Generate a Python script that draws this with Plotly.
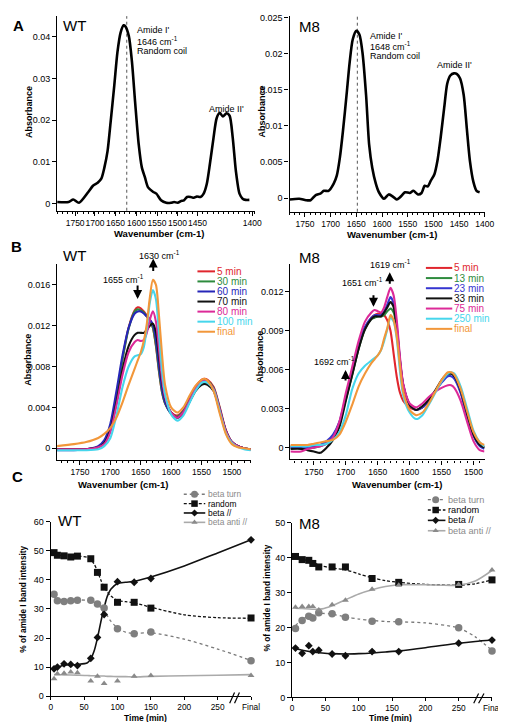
import plotly.graph_objects as go

W, H = 506, 722
NARROW = "Liberation Sans Narrow, Arial Narrow, Liberation Sans, Arial, sans-serif"
SANS = "Liberation Sans, Arial, Helvetica, sans-serif"

# ---------------- Panel A : single spectra ----------------
wn_a_wt = [1780,1758,1749,1738,1720,1711,1702,1695,1689,1683,
           1677,1670,1664,1658,1652,1649,1642,1636,1630,1623,
           1617,1611,1605,1595,1589,1580,1570,1561,1555,1548,
           1542,1536,1530,1523,1517,1511,1504,1498,1492,1486,
           1479,1473,1467,1461,1454,1448,1442,1436,1429,1423,
           1417,1410]
abs_a_wt = [0.0004,0.0004,0.0010,0.0002,0.0028,0.0043,0.0050,0.0060,0.0087,0.0126,
            0.0197,0.0284,0.0363,0.0410,0.0428,0.0426,0.0402,0.0340,0.0245,0.0142,
            0.0087,0.0063,0.0039,0.0028,0.0024,0.0008,0.0002,0.0002,0.0004,0.0002,
            0.0006,0.0008,0.0016,0.0016,0.0014,0.0017,0.0016,0.0024,0.0047,0.0095,
            0.0158,0.0205,0.0218,0.0209,0.0217,0.0211,0.0158,0.0079,0.0024,0.0012,
            0.0009,0.0009]
wn_a_m8 = [1780,1761,1748,1739,1729,1720,1713,1704,1694,1688,
           1682,1676,1669,1663,1657,1650,1644,1638,1631,1625,
           1619,1612,1606,1596,1587,1577,1571,1565,1555,1546,
           1539,1530,1523,1517,1511,1505,1498,1492,1486,1479,
           1473,1467,1460,1454,1448,1441,1435,1429,1422,1416,
           1410]
abs_a_m8 = [-0.0002,-0.0001,-0.0003,-0.0003,0.0004,0.0006,0.0010,0.0010,0.0020,0.0031,
            0.0056,0.0093,0.0143,0.0188,0.0220,0.0232,0.0227,0.0202,0.0143,0.0074,
            0.0042,0.0020,0.0008,-0.0001,0.0005,0.0001,-0.0002,0.0001,0.0008,0.0007,
            0.0010,0.0005,0.0007,0.0017,0.0016,0.0024,0.0033,0.0052,0.0083,0.0125,
            0.0159,0.0170,0.0173,0.0172,0.0166,0.0143,0.0097,0.0052,0.0022,0.0010,
            0.0008]
peak_a_wt = 1646
peak_a_m8 = 1648
wn_tick_text = ["1750", "1700", "1650", "1600", "1550", "1500", "1450", "1400"]
a_wt_tick_pos = [1745.4, 1707.2, 1667.7, 1627.3, 1587.7, 1548.2, 1509.7, 1404.3]
a_m8_tick_pos = [1750, 1700, 1650, 1600, 1550, 1500, 1450, 1400]

# ---------------- Panel B : time series spectra ----------------
wn_b_wt = [1788,1760,1740,1720,1710,1700,1690,1680,1670,1660,
           1655,1650,1645,1640,1635,1630,1625,1620,1615,1610,
           1600,1590,1580,1570,1560,1550,1545,1540,1530,1520,
           1510,1500,1490,1480,1469]
b_wt_names = ["5 min", "30 min", "60 min", "70 min", "80 min", "100 min", "final"]
b_wt_colors = ["#e0262e", "#2e8b3e", "#2626b8", "#111111", "#dc2a98", "#46d6ec", "#f2973a"]
b_wt_5 = [-0.0001,-0.0001,-0.0001,0.0001,0.0005,0.0019,0.0050,0.0088,0.0118,0.0135,
          0.0138,0.0137,0.0134,0.0130,0.0126,0.0118,0.0100,0.0075,0.0055,0.0044,
          0.0035,0.0032,0.0037,0.0048,0.0060,0.0067,0.0068,0.0067,0.0060,0.0040,
          0.0018,0.0006,0.0002,0.0000,-0.0001]
b_wt_30 = [-0.0001,-0.0001,-0.0001,0.0001,0.0005,0.0019,0.0049,0.0087,0.0117,0.0134,
           0.0136,0.0135,0.0133,0.0129,0.0125,0.0118,0.0101,0.0076,0.0055,0.0044,
           0.0034,0.0031,0.0036,0.0047,0.0059,0.0066,0.0067,0.0066,0.0059,0.0039,
           0.0017,0.0006,0.0002,0.0000,-0.0001]
b_wt_60 = [-0.0002,-0.0002,-0.0001,0.0002,0.0008,0.0024,0.0056,0.0091,0.0118,0.0132,
           0.0134,0.0134,0.0132,0.0129,0.0126,0.0121,0.0106,0.0080,0.0058,0.0045,
           0.0034,0.0030,0.0035,0.0046,0.0058,0.0065,0.0066,0.0065,0.0058,0.0038,
           0.0017,0.0006,0.0002,0.0000,-0.0001]
b_wt_70 = [-0.0001,-0.0001,-0.0001,0.0001,0.0005,0.0018,0.0045,0.0077,0.0100,0.0111,
           0.0113,0.0113,0.0113,0.0116,0.0120,0.0122,0.0114,0.0090,0.0065,0.0049,
           0.0035,0.0030,0.0034,0.0045,0.0056,0.0062,0.0063,0.0062,0.0056,0.0037,
           0.0017,0.0006,0.0002,0.0000,-0.0001]
b_wt_80 = [-0.0001,-0.0001,-0.0001,0.0001,0.0004,0.0016,0.0042,0.0072,0.0094,0.0104,
           0.0106,0.0105,0.0106,0.0113,0.0126,0.0134,0.0124,0.0097,0.0068,0.0050,
           0.0035,0.0030,0.0035,0.0046,0.0058,0.0065,0.0066,0.0065,0.0058,0.0038,
           0.0017,0.0006,0.0002,0.0000,-0.0001]
b_wt_100 = [-0.0002,-0.0002,-0.0002,-0.0001,0.0002,0.0010,0.0032,0.0060,0.0080,0.0090,
            0.0091,0.0092,0.0099,0.0118,0.0143,0.0155,0.0146,0.0112,0.0076,0.0053,
            0.0033,0.0027,0.0032,0.0044,0.0056,0.0064,0.0065,0.0064,0.0057,0.0036,
            0.0015,0.0005,0.0001,-0.0001,-0.0002]
b_wt_final = [0.0002,0.0004,0.0006,0.0010,0.0014,0.0020,0.0030,0.0045,0.0062,0.0078,
              0.0086,0.0094,0.0105,0.0122,0.0148,0.0165,0.0160,0.0130,0.0092,0.0062,
              0.0040,0.0035,0.0040,0.0051,0.0061,0.0067,0.0068,0.0066,0.0056,0.0034,
              0.0014,0.0004,0.0001,0.0000,-0.0001]

wn_b_m8 = [1787,1770,1760,1750,1740,1730,1720,1710,1700,1690,
           1680,1670,1660,1655,1650,1645,1640,1635,1630,1625,
           1620,1615,1610,1600,1590,1580,1570,1560,1550,1540,
           1535,1530,1520,1510,1500,1490,1483]
b_m8_names = ["5 min", "13 min", "23 min", "33 min", "75 min", "250 min", "final"]
b_m8_colors = ["#e0262e", "#2e8b3e", "#3535d0", "#111111", "#dc2a98", "#46d6ec", "#f2973a"]
b_m8_5 = [0.0001,0.0001,0.0001,0.0001,0.0002,0.0004,0.0009,0.0019,0.0038,0.0057,
          0.0077,0.0092,0.0100,0.0102,0.0103,0.0103,0.0102,0.0098,0.0090,0.0072,
          0.0054,0.0042,0.0036,0.0031,0.0029,0.0031,0.0036,0.0043,0.0051,0.0056,
          0.0057,0.0055,0.0043,0.0025,0.0010,0.0002,0.0000]
b_m8_13 = [0.0000,0.0000,0.0000,0.0000,0.0001,0.0003,0.0008,0.0018,0.0037,0.0056,
           0.0076,0.0091,0.0099,0.0100,0.0101,0.0101,0.0102,0.0105,0.0107,0.0104,
           0.0090,0.0065,0.0047,0.0033,0.0029,0.0031,0.0036,0.0043,0.0051,0.0056,
           0.0057,0.0055,0.0043,0.0025,0.0010,0.0002,0.0000]
b_m8_23 = [0.0000,0.0000,0.0000,0.0001,0.0002,0.0005,0.0010,0.0020,0.0039,0.0058,
           0.0078,0.0093,0.0100,0.0102,0.0102,0.0102,0.0105,0.0110,0.0116,0.0111,
           0.0093,0.0067,0.0048,0.0033,0.0029,0.0031,0.0036,0.0043,0.0050,0.0055,
           0.0055,0.0053,0.0042,0.0024,0.0009,0.0001,-0.0001]
b_m8_33 = [-0.0001,-0.0001,-0.0002,-0.0003,-0.0004,0.0000,0.0006,0.0016,0.0036,0.0056,
           0.0076,0.0091,0.0099,0.0101,0.0101,0.0101,0.0104,0.0108,0.0112,0.0108,
           0.0091,0.0066,0.0048,0.0033,0.0029,0.0032,0.0037,0.0044,0.0052,0.0057,
           0.0057,0.0055,0.0044,0.0026,0.0010,0.0002,0.0000]
b_m8_75 = [-0.0003,-0.0003,-0.0001,0.0000,0.0001,0.0003,0.0008,0.0020,0.0042,0.0062,
           0.0082,0.0097,0.0104,0.0106,0.0105,0.0104,0.0108,0.0116,0.0123,0.0117,
           0.0097,0.0069,0.0049,0.0034,0.0031,0.0034,0.0039,0.0043,0.0046,0.0048,
           0.0048,0.0046,0.0036,0.0020,0.0005,-0.0002,-0.0003]
b_m8_250 = [0.0001,0.0001,0.0001,0.0002,0.0002,0.0003,0.0006,0.0012,0.0025,0.0045,
            0.0057,0.0063,0.0067,0.0069,0.0071,0.0075,0.0082,0.0091,0.0100,0.0097,
            0.0083,0.0058,0.0040,0.0027,0.0022,0.0025,0.0033,0.0042,0.0051,0.0057,
            0.0058,0.0057,0.0047,0.0030,0.0013,0.0004,0.0001]
b_m8_final = [0.0002,0.0002,0.0002,0.0003,0.0004,0.0005,0.0006,0.0010,0.0020,0.0033,
              0.0047,0.0057,0.0065,0.0068,0.0071,0.0075,0.0084,0.0092,0.0102,0.0098,
              0.0085,0.0062,0.0043,0.0029,0.0025,0.0027,0.0034,0.0043,0.0052,0.0058,
              0.0058,0.0056,0.0045,0.0028,0.0012,0.0004,0.0002]

# ---------------- Panel C : secondary structure content ----------------
final_pos = 300
c_tick_vals = [0, 50, 100, 150, 200, 250, 300]
c_tick_text = ["0", "50", "100", "150", "200", "250", "Final"]
c_names = ["beta turn", "random", "beta //", "beta anti //"]

t_wt = [5, 10, 20, 30, 40, 60, 70, 80, 100, 125, 150, final_pos]
turn_wt = [35.1, 32.8, 32.6, 32.8, 33.0, 33.0, 31.7, 30.3, 23.2, 21.5, 22.1, 12.2]
random_wt = [49.4, 48.5, 48.3, 47.9, 48.2, 47.3, 42.6, 37.5, 32.3, 32.3, 30.3, 26.9]
par_wt = [9.4, 10.0, 11.1, 10.9, 10.5, 13.0, 20.2, 28.1, 39.4, 39.2, 40.5, 53.8]
anti_wt = [6.0, 7.7, 7.9, 8.3, 8.0, 5.2, 6.8, 4.3, 5.2, 6.8, 7.1, 7.1]

fit_t_wt = [5, 10, 20, 40, 55, 60, 65, 70, 75, 80, 85, 90, 100, 112, 125, 150, 200, 250, 300]
turn_fit_wt = [34.6, 33.2, 32.8, 33.1, 33.0, 32.8, 32.3, 31.5, 30.5, 29.3, 27.6, 25.8, 23.5, 22.0, 21.6, 21.8, 19.6, 16.2, 12.3]
random_fit_wt = [49.2, 48.6, 48.4, 48.2, 47.8, 47.0, 45.5, 43.0, 40.0, 37.5, 35.8, 34.5, 33.0, 32.5, 32.1, 30.6, 28.0, 27.0, 26.8]
par_fit_wt = [9.5, 9.9, 10.6, 10.9, 11.5, 12.8, 15.5, 20.0, 25.5, 30.5, 34.5, 36.8, 38.8, 39.2, 39.5, 41.0, 44.8, 49.3, 53.8]
anti_fit_wt = [7.4, 7.4, 7.3, 7.2, 7.1, 7.0, 7.0, 6.9, 6.9, 6.9, 6.8, 6.8, 6.7, 6.7, 6.6, 6.8, 7.0, 7.2, 7.4]

t_m8 = [5, 15, 25, 31, 40, 60, 80, 120, 160, 250, final_pos]
turn_m8 = [19.7, 22.0, 23.2, 22.7, 24.2, 23.9, 22.9, 21.8, 21.6, 19.9, 13.3]
random_m8 = [40.3, 39.4, 39.2, 38.3, 37.3, 37.3, 37.3, 34.0, 32.9, 32.3, 33.6]
par_m8 = [14.1, 12.6, 14.8, 13.1, 13.5, 12.4, 11.9, 13.1, 13.1, 15.5, 16.4]
anti_m8 = [25.8, 26.0, 26.0, 26.0, 25.0, 26.5, 27.8, 30.9, 32.1, 32.3, 36.4]

fit_t_m8 = [5, 15, 30, 45, 60, 80, 100, 120, 140, 160, 200, 250, 275, 300]
turn_fit_m8 = [20.5, 22.3, 23.6, 24.0, 23.8, 23.0, 22.4, 22.0, 21.7, 21.6, 21.3, 19.8, 17.3, 13.4]
random_fit_m8 = [40.2, 39.6, 38.6, 37.6, 37.0, 36.5, 35.3, 34.2, 33.4, 32.9, 32.3, 32.1, 32.5, 33.6]
par_fit_m8 = [13.9, 13.5, 13.0, 12.7, 12.5, 12.4, 12.5, 12.7, 13.0, 13.3, 14.2, 15.5, 16.0, 16.4]
anti_fit_m8 = [25.5, 25.4, 25.2, 25.3, 26.2, 27.9, 29.6, 30.8, 31.7, 32.2, 32.2, 32.1, 33.3, 36.3]

# ---------------- helpers ----------------
def px(x):
    return x / W

def py(y):
    return 1 - y / H

fig = go.Figure()
ann = []
shapes = []

def label(x, y, s, size, family=SANS, color="black", xanchor="center", angle=0):
    ann.append(dict(x=px(x), y=py(y), xref="paper", yref="paper", text=s, showarrow=False,
                    font=dict(size=size, family=family, color=color), borderpad=0,
                    xanchor=xanchor, yanchor="middle", textangle=angle))

def arrow(x, yhead, dy):
    ann.append(dict(x=px(x), y=py(yhead), xref="paper", yref="paper", text="",
                    showarrow=True, ax=0, ay=dy, arrowhead=2, arrowsize=0.9,
                    arrowwidth=2, arrowcolor="black"))

def base_axis(**kw):
    d = dict(showline=True, linecolor="black", linewidth=1.2, ticks="outside", ticklen=4,
             tickwidth=1, tickcolor="black", showgrid=False, zeroline=False, tickangle=0,
             tickfont=dict(size=9, family=SANS, color="black"), fixedrange=True)
    d.update(kw)
    return d

minor10 = dict(tickmode="linear", tick0=1400, dtick=10, ticks="outside", ticklen=2,
               tickcolor="black", tickwidth=1)
xfontN = dict(size=8.5, family=NARROW, color="black")
cxfont = dict(size=8.3, family=SANS, color="black")

# ---------------- Panel A traces ----------------
fig.add_trace(go.Scatter(x=wn_a_wt, y=abs_a_wt, mode="lines", xaxis="x", yaxis="y",
                         line=dict(color="black", width=2.6, shape="spline", smoothing=0.7)))
fig.add_trace(go.Scatter(x=wn_a_m8, y=abs_a_m8, mode="lines", xaxis="x2", yaxis="y2",
                         line=dict(color="black", width=2.6, shape="spline", smoothing=0.7)))
for xr, pk in (("x", peak_a_wt), ("x2", peak_a_m8)):
    shapes.append(dict(type="line", xref=xr, yref=("y" if xr == "x" else "y2") + " domain",
                       x0=pk, x1=pk, y0=0, y1=1, layer="below",
                       line=dict(color="#555555", width=1, dash="dot")))

# ---------------- Panel B traces ----------------
wt_series = [b_wt_5, b_wt_30, b_wt_60, b_wt_70, b_wt_80, b_wt_100, b_wt_final]
for ys, c in zip(wt_series, b_wt_colors):
    fig.add_trace(go.Scatter(x=wn_b_wt, y=ys, mode="lines", xaxis="x3", yaxis="y3",
                             line=dict(color=c, width=2.1, shape="spline", smoothing=0.7)))
m8_series = [b_m8_5, b_m8_13, b_m8_23, b_m8_33, b_m8_75, b_m8_250, b_m8_final]
for ys, c in zip(m8_series, b_m8_colors):
    fig.add_trace(go.Scatter(x=wn_b_m8, y=ys, mode="lines", xaxis="x4", yaxis="y4",
                             line=dict(color=c, width=2.1, shape="spline", smoothing=0.7)))

# ---------------- Panel C traces ----------------
styles = [
    dict(lc="#7a7a7a", dash="dot", lw=1.3, sym="circle", mc="#7f7f7f", ms=7.5),
    dict(lc="#111111", dash="3px,2px", lw=1.3, sym="square", mc="#111111", ms=7),
    dict(lc="#111111", dash="solid", lw=1.6, sym="diamond", mc="#111111", ms=6),
    dict(lc="#aaaaaa", dash="solid", lw=1.6, sym="triangle-up", mc="#8a8a8a", ms=6),
]

def add_c(xa, ya, fit_t, fits, t, pts):
    for f, st in zip(fits, styles):
        fig.add_trace(go.Scatter(x=fit_t, y=f, mode="lines", xaxis=xa, yaxis=ya,
                                 line=dict(color=st["lc"], width=st["lw"], dash=st["dash"],
                                           shape="spline", smoothing=0.8)))
    for p, st in zip(pts, styles):
        fig.add_trace(go.Scatter(x=t, y=p, mode="markers", xaxis=xa, yaxis=ya, cliponaxis=False,
                                 marker=dict(symbol=st["sym"], color=st["mc"], size=st["ms"],
                                             line=dict(width=0))))

add_c("x5", "y5", fit_t_wt, [turn_fit_wt, random_fit_wt, par_fit_wt, anti_fit_wt],
      t_wt, [turn_wt, random_wt, par_wt, anti_wt])
add_c("x6", "y6", fit_t_m8, [turn_fit_m8, random_fit_m8, par_fit_m8, anti_fit_m8],
      t_m8, [turn_m8, random_m8, par_m8, anti_m8])

# ---------------- legends (drawn on a pixel overlay axis) ----------------
def legend_line(x0, x1, y, color, width, dash="solid"):
    fig.add_trace(go.Scatter(x=[x0, x1], y=[y, y], mode="lines", xaxis="x7", yaxis="y7",
                             cliponaxis=False, line=dict(color=color, width=width, dash=dash)))

def legend_marker(x, y, st):
    fig.add_trace(go.Scatter(x=[x], y=[y], mode="markers", xaxis="x7", yaxis="y7",
                             cliponaxis=False,
                             marker=dict(symbol=st["sym"], color=st["mc"], size=st["ms"] - 0.5,
                                         line=dict(width=0))))

for i, (nm, c) in enumerate(zip(b_wt_names, b_wt_colors)):
    y = 262 + 10.2 * i
    legend_line(192, 210, y, c, 2)
    label(211, y, nm, 10, SANS, c, "left")
for i, (nm, c) in enumerate(zip(b_m8_names, b_m8_colors)):
    y = 258.5 + 10.3 * i
    legend_line(426, 453, y, c, 2)
    label(454, y, nm, 10, SANS, c, "left")

for rows, (x0, x1, xm, xt), fs in (([488, 497.5, 507, 516.5], (178, 200, 189, 202), 8.4),
                                   ([493.5, 504, 514.5, 525], (428, 446, 436, 448), 9.2)):
    for y, nm, st in zip(rows, c_names, styles):
        legend_line(x0, x1, y, st["lc"], st["lw"], st["dash"])
        legend_marker(xm, y, st)
        tc = "#8a8a8a" if nm in ("beta turn", "beta anti //") else "black"
        label(xt, y, nm, fs, SANS, tc, "left")

# ---------------- axis break marks ----------------
for (a, b, yb, yt) in ((225, 230, 700, 689), (230, 235, 700, 689),
                       (475, 480, 700, 690), (480, 485.5, 700, 690)):
    shapes.append(dict(type="line", xref="paper", yref="paper", x0=px(a), x1=px(b),
                       y0=py(yb), y1=py(yt), line=dict(color="black", width=1.2)))

# ---------------- text ----------------
label(9, 13, "<b>A</b>", 15)
label(7, 237, "<b>B</b>", 15)
label(8, 470, "<b>C</b>", 15)
label(66, 13, "WT", 15)
label(306.5, 14, "M8", 15)
label(66, 246, "WT", 15)
label(307, 247.5, "M8", 15)
label(61, 515, "WT", 15)
label(307, 517.5, "M8", 15)

label(129, 17, "Amide I'", 9, NARROW, xanchor="left")
label(129, 28, "1646 cm<sup>-1</sup>", 9, NARROW, xanchor="left")
label(129, 38.5, "Random coil", 9, NARROW, xanchor="left")
label(222, 97, "Amide II'", 9, NARROW)
label(368, 23, "Amide I'", 9, NARROW, xanchor="left")
label(368, 33, "1648 cm<sup>-1</sup>", 9, NARROW, xanchor="left")
label(368, 43.5, "Random coil", 9, NARROW, xanchor="left")
label(455, 53, "Amide II'", 9, NARROW)

label(116, 269.5, "1655 cm<sup>-1</sup>", 9, NARROW)
label(153, 245, "1630 cm<sup>-1</sup>", 9, NARROW)
arrow(130.7, 290, -15)
arrow(146.7, 249, 14)
label(390, 255, "1619 cm<sup>-1</sup>", 9, NARROW)
label(361, 273, "1651 cm<sup>-1</sup>", 9, NARROW)
label(332, 353, "1692 cm<sup>-1</sup>", 9, NARROW)
arrow(389, 263, 13)
arrow(372.3, 298, -13)
arrow(343.7, 362, 12)

for (x, y) in ((152.5, 224), (391.7, 225), (115.8, 478.3), (396.3, 478.3)):
    label(x, y, "<b>Wavenumber (cm-1)</b>", 9.5, NARROW)
for (x, y) in ((20, 100.8), (258, 100), (18.3, 351.7), (256.3, 348.3)):
    label(x, y, "<b>Absorbance</b>", 9, NARROW, angle=-90)
for (x, y) in ((139.3, 715.2), (389.7, 715.2)):
    label(x, y, "<b>Time (min)</b>", 8.5)
for (x, y) in ((13.3, 594), (263, 593)):
    label(x, y, "<b>% of amide I band intensity</b>", 8.3, angle=-90)

# ---------------- layout ----------------
fig.update_layout(
    width=W, height=H, margin=dict(l=0, r=0, t=0, b=0),
    paper_bgcolor="white", plot_bgcolor="rgba(0,0,0,0)", showlegend=False,
    font=dict(family=SANS, color="black"),
    xaxis=base_axis(domain=[px(48.3), px(250.5)], range=[1780, 1400], anchor="y",
                    tickmode="array", tickvals=a_wt_tick_pos, ticktext=wn_tick_text,
                    tickfont=xfontN, minor=minor10),
    yaxis=base_axis(domain=[py(200.5), py(3.2)], range=[-0.0017, 0.045], anchor="x",
                    tickmode="array", tickvals=[0, 0.01, 0.02, 0.03, 0.04],
                    ticktext=["0", "0.01", "0.02", "0.03", "0.04"]),
    xaxis2=base_axis(domain=[px(286.3), px(486.3)], range=[1780, 1400], anchor="y2",
                     tickmode="array", tickvals=a_m8_tick_pos, ticktext=wn_tick_text,
                     tickfont=xfontN, minor=minor10),
    yaxis2=base_axis(domain=[py(201.5), py(3.5)], range=[-0.0019, 0.0252], anchor="x2",
                     tickmode="array", tickvals=[0, 0.005, 0.01, 0.015, 0.02, 0.025],
                     ticktext=["0", "0.005", "0.01", "0.015", "0.02", "0.025"]),
    xaxis3=base_axis(domain=[px(48.3), px(246.7)], range=[1787.6, 1468.8], anchor="y3",
                     tickmode="array", tickvals=[1750, 1700, 1650, 1600, 1550, 1500],
                     ticktext=wn_tick_text[:6], tickfont=xfontN, minor=minor10),
    yaxis3=base_axis(domain=[py(453), py(255)], range=[-0.00113, 0.0180], anchor="x3",
                     tickmode="array", tickvals=[0, 0.004, 0.008, 0.012, 0.016],
                     ticktext=["0", "0.004", "0.008", "0.012", "0.016"]),
    xaxis4=base_axis(domain=[px(287.3), px(486.3)], range=[1786.7, 1482.3], anchor="y4",
                     tickmode="array", tickvals=[1750, 1700, 1650, 1600, 1550, 1500],
                     ticktext=wn_tick_text[:6], tickfont=xfontN, minor=minor10),
    yaxis4=base_axis(domain=[py(452.7), py(255)], range=[-0.00091, 0.0141], anchor="x4",
                     tickmode="array", tickvals=[0, 0.003, 0.006, 0.009, 0.012],
                     ticktext=["0", "0.003", "0.006", "0.009", "0.012"]),
    xaxis5=base_axis(domain=[px(41.7), px(246.9)], range=[0, 300], anchor="y5",
                     tickmode="array", tickvals=c_tick_vals, ticktext=c_tick_text,
                     tickfont=cxfont, ticklen=3),
    yaxis5=base_axis(domain=[py(692.7), py(516)], range=[0, 60], anchor="x5",
                     tickmode="linear", tick0=0, dtick=10),
    xaxis6=base_axis(domain=[px(289), px(493.7)], range=[0, 300], anchor="y6",
                     tickmode="array", tickvals=c_tick_vals, ticktext=c_tick_text,
                     tickfont=cxfont, ticklen=3),
    yaxis6=base_axis(domain=[py(694), py(516.7)], range=[0, 50], anchor="x6",
                     tickmode="linear", tick0=0, dtick=10),
    xaxis7=dict(domain=[0, 1], range=[0, W], anchor="y7", visible=False, fixedrange=True),
    yaxis7=dict(domain=[0, 1], range=[H, 0], anchor="x7", visible=False, fixedrange=True),
    annotations=ann, shapes=shapes,
)

fig.write_html("out.html")
